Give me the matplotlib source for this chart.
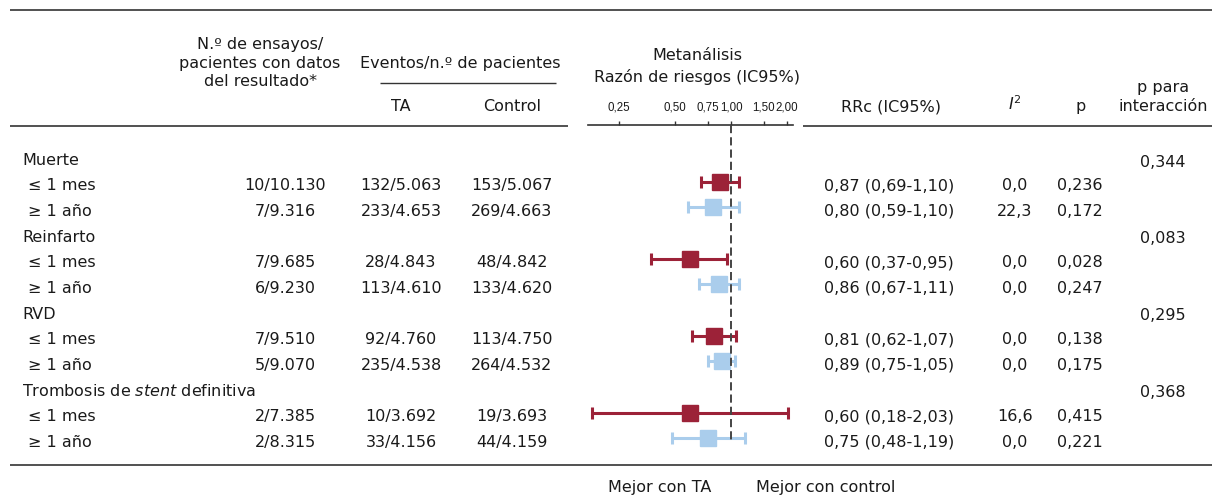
import matplotlib
matplotlib.use("Agg")
import matplotlib.pyplot as plt
import numpy as np

plt.rcParams['font.family'] = ['DejaVu Sans']
plt.rcParams['mathtext.fontset'] = 'dejavusans'

# ---------------- data ----------------
groups = ['Muerte', 'Reinfarto', 'RVD', r'Trombosis de $\mathit{stent}$ definitiva']
subgroups = ['≤ 1 mes', '≥ 1 año']
n_trials = ['10/10.130', '7/9.316', '7/9.685', '6/9.230', '7/9.510', '5/9.070', '2/7.385', '2/8.315']
ev_ta = ['132/5.063', '233/4.653', '28/4.843', '113/4.610', '92/4.760', '235/4.538', '10/3.692', '33/4.156']
ev_ctrl = ['153/5.067', '269/4.663', '48/4.842', '133/4.620', '113/4.750', '264/4.532', '19/3.693', '44/4.159']
rr = [0.87, 0.80, 0.60, 0.86, 0.81, 0.89, 0.60, 0.75]
rr_lo = [0.69, 0.59, 0.37, 0.67, 0.62, 0.75, 0.18, 0.48]
rr_hi = [1.10, 1.10, 0.95, 1.11, 1.07, 1.05, 2.03, 1.19]
i2 = ['0,0', '22,3', '0,0', '0,0', '0,0', '0,0', '16,6', '0,0']
p_vals = ['0,236', '0,172', '0,028', '0,247', '0,138', '0,175', '0,415', '0,221']
p_inter = ['0,344', '0,083', '0,295', '0,368']
tick_vals = [0.25, 0.50, 0.75, 1.00, 1.50, 2.00]
tick_labels = ['0,25', '0,50', '0,75', '1,00', '1,50', '2,00']

# ---------------- layout ----------------
W, H = 1219, 498
FS = 11.5
RED = '#9C2238'
BLUE = '#AACDEC'
LINEC = '#333333'
TXT = '#1a1a1a'

fig = plt.figure(figsize=(W / 100, H / 100), dpi=100)
ax = fig.add_axes([0, 0, 1, 1])
ax.set_xlim(0, W)
ax.set_ylim(H, 0)
ax.axis('off')

y0, dy = 156.0, 25.66
row_y = []   # y of each data row
hdr_y = []   # y of each group header row
k = 0
for g in range(len(groups)):
    hdr_y.append(y0 + dy * k)
    k += 1
    for s in range(len(subgroups)):
        row_y.append(y0 + dy * k)
        k += 1

# rules
ax.hlines(10, 10, 1212, color=LINEC, lw=1.2)
ax.hlines(125.5, 10, 568, color=LINEC, lw=1.2)
ax.hlines(125.5, 803, 1212, color=LINEC, lw=1.2)
ax.hlines(465, 10, 1212, color=LINEC, lw=1.2)
ax.hlines(83, 380, 556, color=LINEC, lw=1.0)

# headers
tkw = dict(fontsize=FS, color=TXT)
ax.text(260, 49, 'N.º de ensayos/', ha='center', va='baseline', **tkw)
ax.text(260, 68, 'pacientes con datos', ha='center', va='baseline', **tkw)
ax.text(260, 86, 'del resultado*', ha='center', va='baseline', **tkw)
ax.text(460, 68, 'Eventos/n.º de pacientes', ha='center', va='baseline', **tkw)
ax.text(401, 111, 'TA', ha='center', va='baseline', **tkw)
ax.text(512, 111, 'Control', ha='center', va='baseline', **tkw)
ax.text(697, 60, 'Metanálisis', ha='center', va='baseline', **tkw)
ax.text(697, 82, 'Razón de riesgos (IC95%)', ha='center', va='baseline', **tkw)
ax.text(891, 111, 'RRc (IC95%)', ha='center', va='baseline', **tkw)
ax.text(1015, 110, r'$I^2$', ha='center', va='baseline', **tkw)
ax.text(1081, 111, 'p', ha='center', va='baseline', **tkw)
ax.text(1163, 92, 'p para', ha='center', va='baseline', **tkw)
ax.text(1163, 111, 'interacción', ha='center', va='baseline', **tkw)

# table body
for g, name in enumerate(groups):
    ax.text(22.5, hdr_y[g] + 9, name, ha='left', va='baseline', **tkw)
    ax.text(1163, hdr_y[g] + 10.5, p_inter[g], ha='center', va='baseline', **tkw)
for i, y in enumerate(row_y):
    b = y + 8.5
    ax.text(28, b, subgroups[i % 2], ha='left', va='baseline', **tkw)
    ax.text(285, b, n_trials[i], ha='center', va='baseline', **tkw)
    ax.text(401, b, ev_ta[i], ha='center', va='baseline', **tkw)
    ax.text(512, b, ev_ctrl[i], ha='center', va='baseline', **tkw)
    rrc = f'{rr[i]:.2f} ({rr_lo[i]:.2f}-{rr_hi[i]:.2f})'.replace('.', ',')
    ax.text(824, b, rrc, ha='left', va='baseline', **tkw)
    ax.text(1015, b, i2[i], ha='center', va='baseline', **tkw)
    ax.text(1080, b, p_vals[i], ha='center', va='baseline', **tkw)

# footer
ax.text(660, 492, 'Mejor con TA', ha='center', va='baseline', **tkw)
ax.text(826, 492, 'Mejor con control', ha='center', va='baseline', **tkw)

# ---------------- forest axes ----------------
px_left, px_right, px_top, px_bot = 588, 793, 125.5, 465
fx = fig.add_axes([px_left / W, (H - px_bot) / H, (px_right - px_left) / W, (px_bot - px_top) / H])
fx.set_xscale('log')
ppu = 56.0  # px per doubling
x_at_1 = 731.0
fx.set_xlim(2 ** ((px_left - x_at_1) / ppu), 2 ** ((px_right - x_at_1) / ppu))
fx.set_ylim(px_bot, px_top)
fx.patch.set_alpha(0)
for s in ['left', 'right', 'bottom']:
    fx.spines[s].set_visible(False)
fx.spines['top'].set_color(LINEC)
fx.spines['top'].set_linewidth(1.2)
fx.set_yticks([])
fx.xaxis.set_ticks_position('top')
fx.xaxis.set_label_position('top')
fx.set_xticks(tick_vals)
fx.set_xticklabels(tick_labels, fontfamily='Liberation Sans')
fx.xaxis.set_minor_locator(matplotlib.ticker.NullLocator())
fx.tick_params(axis='x', which='major', direction='out', length=3.2, width=1.0,
               color=LINEC, labelsize=8.3, labelcolor=TXT, pad=5.5)

rr_a = np.array(rr)
lo_a = np.array(rr_lo)
hi_a = np.array(rr_hi)
ys = np.array(row_y)
for i in range(len(rr)):
    c = RED if i % 2 == 0 else BLUE
    fx.errorbar(rr_a[i], ys[i], xerr=[[rr_a[i] - lo_a[i]], [hi_a[i] - rr_a[i]]],
                fmt='s', ms=12.2, color=c, ecolor=c, elinewidth=2.2,
                capsize=4.3, capthick=2.2, zorder=2)
fx.vlines(1.0, px_top, row_y[-1] + 2, colors='#444444', lw=1.4,
          linestyles=(0, (4.2, 2.1)), zorder=3)

fig.savefig('out.png', dpi=100)
